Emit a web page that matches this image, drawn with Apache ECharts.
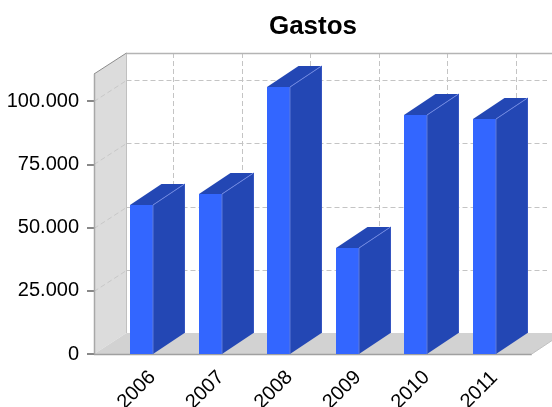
<!DOCTYPE html>
<html>
<head>
<meta charset="utf-8">
<style>html,body{margin:0;padding:0;background:#fff}#chart{width:552px;height:407px}</style>
<script src="https://cdn.jsdelivr.net/npm/echarts@6/dist/echarts.min.js"></script>
</head>
<body>
<div id="chart"></div>
<script>
const years = ["2006", "2007", "2008", "2009", "2010", "2011"];
const gastos = [59000, 63400, 105500, 42000, 94600, 92900];
const yTicks = [0, 25000, 50000, 75000, 100000];
const Y_MAX = 110700;

// offset of the back wall relative to the front plane
const DEPTH_X = 31.5;
const DEPTH_Y = -21;
const SIDE_MARGIN = 13.4;

function formatThousands(value) {
  return String(value).replace(/\B(?=(\d{3})+$)/g, ".");
}

function poly(points, fill, z2) {
  return { type: "polygon", z2, shape: { points }, style: { fill, stroke: null } };
}

function line(x1, y1, x2, y2, stroke, dash, width) {
  return {
    type: "line",
    shape: { x1, y1, x2, y2 },
    style: { stroke, lineWidth: width || 1, lineDash: dash || null },
  };
}

function renderWalls(params, api) {
  const cs = params.coordSys;
  const left = cs.x - SIDE_MARGIN;
  const right = cs.x + cs.width + SIDE_MARGIN;
  const top = cs.y;
  const bottom = cs.y + cs.height;
  const back = Math.round(left + DEPTH_X) + 0.5;
  const dash = [5, 3];
  const children = [
    poly([[left, bottom], [back, bottom + DEPTH_Y], [back, top + DEPTH_Y], [left, top]], "#dcdcdc"),
    poly([[left, bottom], [back, bottom + DEPTH_Y], [right + DEPTH_X, bottom + DEPTH_Y], [right, bottom]], "#d2d2d2"),
  ];

  yTicks.forEach((tick) => {
    if (tick === 0) return;
    const y = Math.round(api.coord([0, tick])[1]) + 0.5;
    children.push(line(left, y, back, y + DEPTH_Y, "#c8c8c8", dash));
    children.push(line(back, y + DEPTH_Y, 547, y + DEPTH_Y, "#c4c4c4", dash));
  });
  years.forEach((year, i) => {
    const x = Math.round(api.coord([i, 0])[0] + DEPTH_X) + 0.5;
    children.push(line(x, top + DEPTH_Y, x, bottom + DEPTH_Y, "#c4c4c4", dash));
  });

  children.push(line(back, top + DEPTH_Y, back, bottom + DEPTH_Y, "#c0c0c0"));
  children.push(line(back, top + DEPTH_Y + 0.5, 552, top + DEPTH_Y + 0.5, "#b4b4b4", null, 1.5));
  children.push(line(left, top, back, top + DEPTH_Y, "#8c8c8c"));
  children.push(line(left + 0.5, top, left + 0.5, bottom, "#a8a8a8", null, 1.5));
  children.push(line(left, bottom + 0.5, right, bottom + 0.5, "#a0a0a0", null, 1.5));
  children.push(line(right, bottom, right + DEPTH_X, bottom + DEPTH_Y, "#c0c0c0"));
  return { type: "group", children };
}

function renderBar(params, api) {
  const [cx, yTop] = api.coord([api.value(0), api.value(1)]);
  const yBase = api.coord([api.value(0), 0])[1];
  const width = api.size([1, 0])[0] / 3;
  const x0 = Math.round(cx - width / 2);
  const x1 = x0 + Math.round(width);
  const y0 = Math.round(yTop);
  const y1 = Math.round(yBase);
  const edge = "#6f88e2";
  return {
    type: "group",
    children: [
      poly([[x1, y1], [x1 + DEPTH_X, y1 + DEPTH_Y], [x1 + DEPTH_X, y0 + DEPTH_Y], [x1, y0]], "#2347b4"),
      poly([[x0, y0], [x0 + DEPTH_X, y0 + DEPTH_Y], [x1 + DEPTH_X, y0 + DEPTH_Y], [x1, y0]], "#2347b4"),
      poly([[x0, y0], [x1, y0], [x1, y1], [x0, y1]], "#3366ff"),
      line(x1, y0, x1, y1, "#5f7bd8"),
      line(x1, y0, x1 + DEPTH_X, y0 + DEPTH_Y, edge),
      line(x1 + DEPTH_X, y0 + DEPTH_Y, x1 + DEPTH_X, y1 + DEPTH_Y, "#3555c0"),
    ],
  };
}

const chart = echarts.init(document.getElementById("chart"), null, { renderer: "canvas" });

chart.setOption({
  animation: false,
  backgroundColor: "#ffffff",
  textStyle: { fontFamily: "Liberation Sans" },
  title: {
    text: "Gastos",
    left: 308,
    top: 9,
    textAlign: "center",
    textStyle: { fontFamily: "Liberation Sans", fontSize: 26, fontWeight: "bold", color: "#000000" },
  },
  grid: { left: 107.4, top: 74, width: 411, height: 280, containLabel: false, outerBoundsMode: "none" },
  xAxis: {
    type: "category",
    data: years,
    axisLine: { show: false },
    axisTick: { show: false },
    axisLabel: {
      rotate: 45,
      interval: 0,
      margin: 31,
      align: "center",
      verticalAlign: "middle",
      padding: [0, 14, 0, 0],
      fontSize: 20,
      color: "#000000",
      fontFamily: "Liberation Sans",
    },
  },
  yAxis: {
    type: "value",
    min: 0,
    max: Y_MAX,
    offset: SIDE_MARGIN,
    splitLine: { show: false },
    axisLine: { show: false },
    axisTick: { show: true, length: 7, customValues: yTicks, lineStyle: { color: "#888888", width: 2 } },
    axisLabel: {
      margin: 15,
      padding: [3, 0, 0, 0],
      fontSize: 20,
      color: "#000000",
      fontFamily: "Liberation Sans",
      customValues: yTicks,
      formatter: (value) => formatThousands(value),
    },
  },
  series: [
    {
      name: "walls",
      type: "custom",
      z: 1,
      silent: true,
      renderItem: renderWalls,
      data: [[0, 0]],
      encode: { x: 0, y: 1 },
    },
    {
      name: "Gastos",
      type: "custom",
      z: 2,
      renderItem: renderBar,
      data: years.map((year, i) => [i, gastos[i]]),
      encode: { x: 0, y: 1 },
    },
  ],
});
</script>
</body>
</html>
